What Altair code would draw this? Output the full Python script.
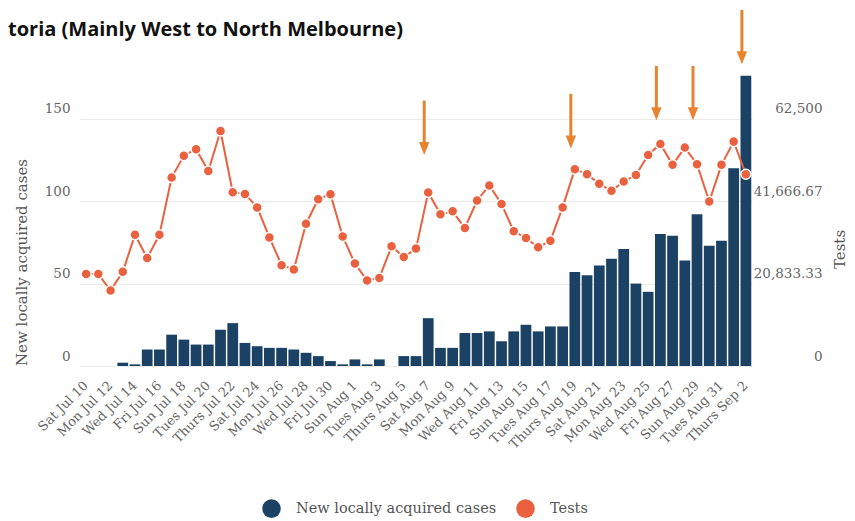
import altair as alt
import pandas as pd

title_text = "toria (Mainly West to North Melbourne)"

days = [
    "Sat Jul 10", "Sun Jul 11", "Mon Jul 12", "Tues Jul 13", "Wed Jul 14", "Thurs Jul 15", "Fri Jul 16",
    "Sat Jul 17", "Sun Jul 18", "Mon Jul 19", "Tues Jul 20", "Wed Jul 21", "Thurs Jul 22", "Fri Jul 23",
    "Sat Jul 24", "Sun Jul 25", "Mon Jul 26", "Tues Jul 27", "Wed Jul 28", "Thurs Jul 29", "Fri Jul 30",
    "Sat Jul 31", "Sun Aug 1", "Mon Aug 2", "Tues Aug 3", "Wed Aug 4", "Thurs Aug 5", "Fri Aug 6",
    "Sat Aug 7", "Sun Aug 8", "Mon Aug 9", "Tues Aug 10", "Wed Aug 11", "Thurs Aug 12", "Fri Aug 13",
    "Sat Aug 14", "Sun Aug 15", "Mon Aug 16", "Tues Aug 17", "Wed Aug 18", "Thurs Aug 19", "Fri Aug 20",
    "Sat Aug 21", "Sun Aug 22", "Mon Aug 23", "Tues Aug 24", "Wed Aug 25", "Thurs Aug 26", "Fri Aug 27",
    "Sat Aug 28", "Sun Aug 29", "Mon Aug 30", "Tues Aug 31", "Wed Sep 1", "Thurs Sep 2",
]

cases = [
    0, 0, 0, 2, 1, 10, 10,
    19, 16, 13, 13, 22, 26, 14,
    12, 11, 11, 10, 8, 6, 3,
    1, 4, 1, 4, 0, 6, 6,
    29, 11, 11, 20, 20, 21, 15,
    21, 25, 21, 24, 24, 57, 55,
    61, 65, 71, 50, 45, 80, 79,
    64, 92, 73, 76, 120, 176,
]

tests = [
    23250, 23250, 19083, 23792, 33167, 27292, 33167,
    47625, 53167, 54792, 49292, 59375, 43917, 43500,
    40083, 32500, 25458, 24375, 35958, 42167, 43417,
    32750, 25875, 21583, 22250, 30250, 27542, 29667,
    43875, 38375, 39083, 34875, 41833, 45625, 40917,
    34042, 32333, 30000, 31667, 40083, 49750, 48458,
    46042, 44292, 46625, 48292, 53333, 56125, 50833,
    55208, 51000, 41583, 50833, 56708, 48458,
]

# annotation arrows (in case units of the left axis)
arrow_days = ["Sat Aug 7", "Thurs Aug 19", "Thurs Aug 26", "Sun Aug 29", "Thurs Sep 2"]
arrow_top = [161, 165, 182, 182, 216]
arrow_tip = [128, 132, 149, 149, 183]

tick_days = days[::2]
case_ticks = [0, 50, 100, 150]
tests_ticks = [0, 62500 / 3, 125000 / 3, 62500]
series_names = ["New locally acquired cases", "Tests"]

df = pd.DataFrame({"day": days, "cases": cases, "tests": tests})
arrows = pd.DataFrame({"day": arrow_days, "top": arrow_top, "tip": arrow_tip})
title_df = pd.DataFrame({"t": [title_text]})

NAVY = "#1b4265"
RED = "#e9613f"
ORANGE = "#e8832f"
SERIF = "DejaVu Serif"

CASE_MAX = 185
TEST_MAX = CASE_MAX * 62500 / 150

color_scale = alt.Scale(domain=series_names, range=[NAVY, RED])
legend = alt.Legend(
    title=None, orient="none", legendX=182, legendY=438, direction="horizontal",
    symbolType="circle", symbolSize=346, symbolStrokeWidth=0, symbolOpacity=1,
    labelFont=SERIF, labelFontSize=14.5, labelColor="#555", labelOffset=15,
    labelLimit=400, columnPadding=19, padding=0,
)

x = alt.X(
    "day:N", sort=days, title=None,
    scale=alt.Scale(paddingInner=0.12, paddingOuter=0.06),
    axis=alt.Axis(
        values=tick_days, labelAngle=315, labelAlign="right", labelBaseline="middle",
        labelPadding=17, labelFont=SERIF, labelFontSize=13, labelColor="#666",
        ticks=False, domain=False, labelOverlap=False, grid=False,
    ),
)

case_scale = alt.Scale(domain=[0, CASE_MAX], nice=False, zero=True)
case_axis = alt.Axis(
    values=case_ticks, title="New locally acquired cases", grid=True, gridColor="#ebebeb",
    domain=False, ticks=False, tickSize=0, labelPadding=10, labelFont=SERIF,
    labelFontSize=13.5, labelColor="#666", labelBaseline="alphabetic", labelOffset=-6,
    titleFont=SERIF, titleFontSize=15, titleFontWeight="normal", titleColor="#555",
    titleX=-59, titleY=201, titleAngle=270, titleAlign="center", titleBaseline="middle",
)

test_scale = alt.Scale(domain=[0, TEST_MAX], nice=False, zero=True)
test_axis = alt.Axis(
    orient="right", values=tests_ticks, format=",.2~f", title="Tests", grid=False,
    domain=False, ticks=False, tickSize=0, labelAlign="right", labelPadding=70,
    labelFont=SERIF, labelFontSize=13.5, labelColor="#666", labelBaseline="alphabetic",
    labelOffset=-6, titleFont=SERIF, titleFontSize=15, titleFontWeight="normal",
    titleColor="#555", titleX=87, titleY=188, titleAngle=270, titleAlign="center",
    titleBaseline="middle",
)

bars = alt.Chart(df).transform_calculate(series="'New locally acquired cases'").mark_bar().encode(
    x=x,
    y=alt.Y("cases:Q", scale=case_scale, axis=case_axis),
    color=alt.Color("series:N", scale=color_scale, legend=legend),
)

arrow_rule = alt.Chart(arrows).mark_rule(
    color=ORANGE, strokeWidth=3, xOffset=-4, y2Offset=-7
).encode(
    x=x,
    y=alt.Y("top:Q", scale=case_scale, axis=case_axis),
    y2="tip:Q",
)

arrow_head = alt.Chart(arrows).mark_point(
    shape="M-0.8,-1L0.8,-1L0,1Z", filled=True, size=169, color=ORANGE, opacity=1,
    xOffset=-4, yOffset=-6.5,
).encode(
    x=x,
    y=alt.Y("tip:Q", scale=case_scale, axis=case_axis),
)

line = alt.Chart(df).mark_line(color=RED, strokeWidth=2).encode(
    x=x,
    y=alt.Y("tests:Q", scale=test_scale, axis=test_axis),
)

pts = alt.Chart(df).transform_calculate(series="'Tests'").mark_circle(
    size=100, opacity=1, stroke="white", strokeWidth=1.5
).encode(
    x=x,
    y=alt.Y("tests:Q", scale=test_scale, axis=test_axis),
    color=alt.Color("series:N", scale=color_scale, legend=legend),
)

title_mark = alt.Chart(title_df).mark_text(
    align="left", baseline="middle", font="Open Sans", fontSize=20,
    fontWeight="bold", color="#111",
).encode(
    x=alt.value(-72),
    y=alt.value(-31),
    text="t:N",
)

left = alt.layer(bars, arrow_rule, arrow_head)
right = alt.layer(line, pts)

chart = alt.layer(left, right, title_mark).resolve_scale(y="independent").properties(
    width=672,
    height=305,
    padding={"left": 0, "top": 0, "right": 0, "bottom": 0},
).configure_view(strokeOpacity=0)

chart.save("out.html", embed_options={"renderer": "svg", "actions": False})
